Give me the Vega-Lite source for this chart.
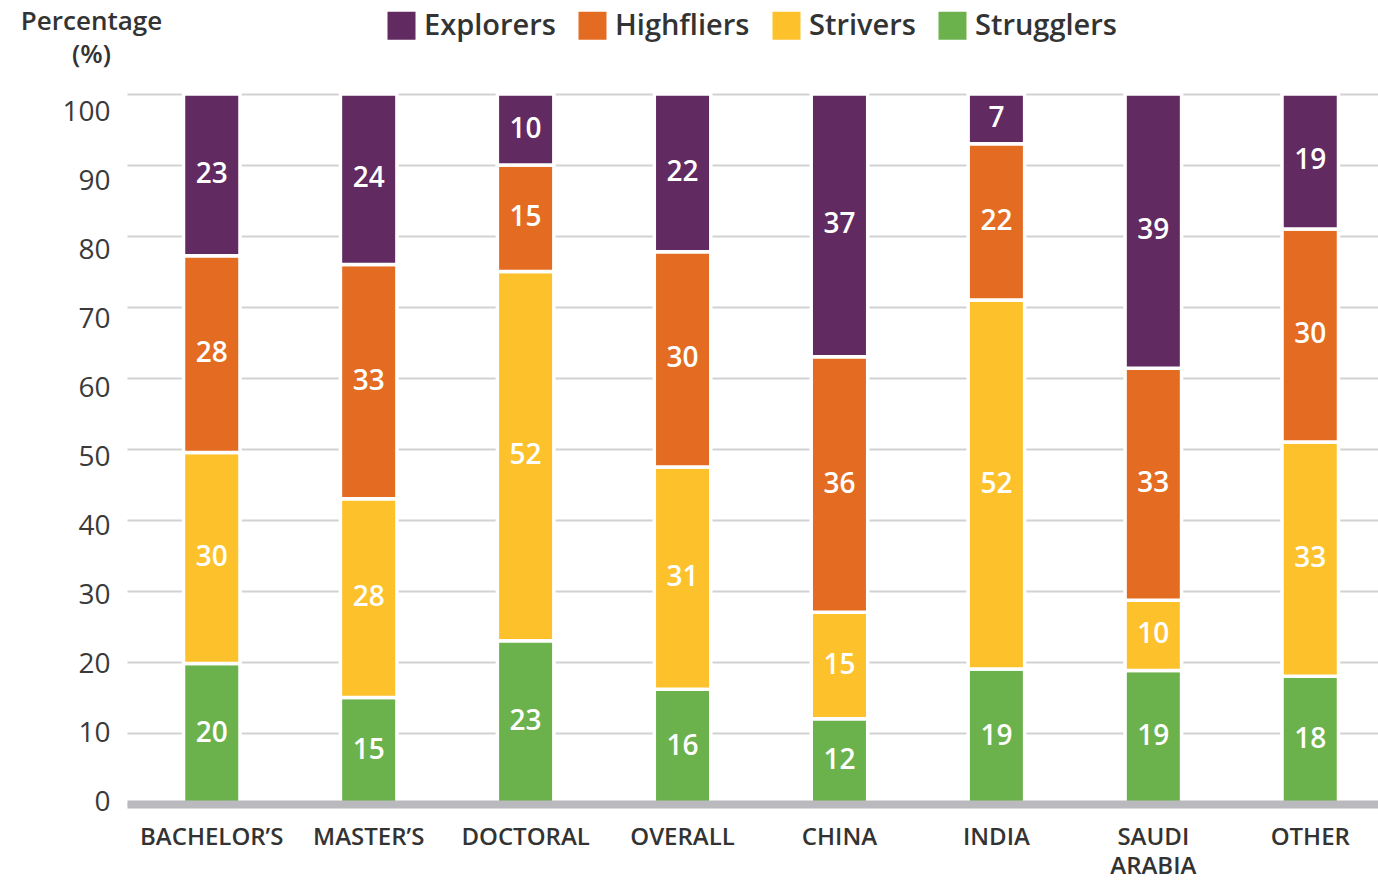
{
  "$schema": "https://vega.github.io/schema/vega-lite/v6.json",
  "width": 1268,
  "height": 710,
  "autosize": {"type": "none"},
  "padding": {"left": 127, "top": 94, "right": 0, "bottom": 76},
  "background": "white",
  "config": {"view": {"stroke": null}, "font": "Open Sans"},
  "data": {
    "values": [
      {"category": "BACHELOR’S", "group": "Strugglers", "order": 1, "value": 20},
      {"category": "BACHELOR’S", "group": "Strivers", "order": 2, "value": 30},
      {"category": "BACHELOR’S", "group": "Highfliers", "order": 3, "value": 28},
      {"category": "BACHELOR’S", "group": "Explorers", "order": 4, "value": 23},
      {"category": "MASTER’S", "group": "Strugglers", "order": 1, "value": 15},
      {"category": "MASTER’S", "group": "Strivers", "order": 2, "value": 28},
      {"category": "MASTER’S", "group": "Highfliers", "order": 3, "value": 33},
      {"category": "MASTER’S", "group": "Explorers", "order": 4, "value": 24},
      {"category": "DOCTORAL", "group": "Strugglers", "order": 1, "value": 23},
      {"category": "DOCTORAL", "group": "Strivers", "order": 2, "value": 52},
      {"category": "DOCTORAL", "group": "Highfliers", "order": 3, "value": 15},
      {"category": "DOCTORAL", "group": "Explorers", "order": 4, "value": 10},
      {"category": "OVERALL", "group": "Strugglers", "order": 1, "value": 16},
      {"category": "OVERALL", "group": "Strivers", "order": 2, "value": 31},
      {"category": "OVERALL", "group": "Highfliers", "order": 3, "value": 30},
      {"category": "OVERALL", "group": "Explorers", "order": 4, "value": 22},
      {"category": "CHINA", "group": "Strugglers", "order": 1, "value": 12},
      {"category": "CHINA", "group": "Strivers", "order": 2, "value": 15},
      {"category": "CHINA", "group": "Highfliers", "order": 3, "value": 36},
      {"category": "CHINA", "group": "Explorers", "order": 4, "value": 37},
      {"category": "INDIA", "group": "Strugglers", "order": 1, "value": 19},
      {"category": "INDIA", "group": "Strivers", "order": 2, "value": 52},
      {"category": "INDIA", "group": "Highfliers", "order": 3, "value": 22},
      {"category": "INDIA", "group": "Explorers", "order": 4, "value": 7},
      {"category": "SAUDI ARABIA", "group": "Strugglers", "order": 1, "value": 19},
      {"category": "SAUDI ARABIA", "group": "Strivers", "order": 2, "value": 10},
      {"category": "SAUDI ARABIA", "group": "Highfliers", "order": 3, "value": 33},
      {"category": "SAUDI ARABIA", "group": "Explorers", "order": 4, "value": 39},
      {"category": "OTHER", "group": "Strugglers", "order": 1, "value": 18},
      {"category": "OTHER", "group": "Strivers", "order": 2, "value": 33},
      {"category": "OTHER", "group": "Highfliers", "order": 3, "value": 30},
      {"category": "OTHER", "group": "Explorers", "order": 4, "value": 19}
    ]
  },
  "transform": [
    {"stack": "value", "groupby": ["category"], "sort": [{"field": "order", "order": "ascending"}], "offset": "normalize", "as": ["v0", "v1"]}
  ],
  "encoding": {
    "x": {
      "field": "category",
      "type": "nominal",
      "sort": ["BACHELOR’S", "MASTER’S", "DOCTORAL", "OVERALL", "CHINA", "INDIA", "SAUDI ARABIA", "OTHER"],
      "scale": {"paddingInner": 0.64, "paddingOuter": 0.36},
      "axis": {
        "title": null,
        "zindex": 1,
        "domain": true,
        "domainColor": "#b9b9be",
        "domainWidth": 8,
        "ticks": false,
        "grid": false,
        "labelAngle": 0,
        "labelPadding": 21,
        "labelFontSize": 24,
        "labelFontWeight": 600,
        "labelColor": "#333333",
        "labelLineHeight": 29,
        "labelExpr": "datum.label == 'SAUDI ARABIA' ? ['SAUDI', 'ARABIA'] : datum.label"
      }
    }
  },
  "layer": [
    {
      "mark": {"type": "bar", "stroke": "white", "strokeWidth": 3.5},
      "encoding": {
        "y": {
          "field": "v0",
          "type": "quantitative",
          "scale": {"domain": [0, 1]},
          "axis": {
            "values": [0, 0.1, 0.2, 0.3, 0.4, 0.5, 0.6, 0.7, 0.8, 0.9, 1],
            "labelExpr": "format(datum.value * 100, 'd')",
            "domain": false,
            "ticks": false,
            "grid": true,
            "gridColor": "#d2d2d2",
            "gridWidth": 2,
            "labelFontSize": 28,
            "labelColor": "#3a3a3a",
            "labelPadding": 17,
            "labelOffset": {"expr": "-2 + 20 * datum.value"},
            "title": ["Percentage", "(%)"],
            "titleAngle": 0,
            "titleAlign": "center",
            "titleBaseline": "alphabetic",
            "titleX": -36,
            "titleY": -65,
            "titleFontSize": 26,
            "titleFontWeight": 600,
            "titleColor": "#333333",
            "titleLineHeight": 33
          }
        },
        "y2": {"field": "v1"},
        "color": {
          "field": "group",
          "type": "nominal",
          "scale": {
            "domain": ["Explorers", "Highfliers", "Strivers", "Strugglers"],
            "range": ["#612a61", "#e46c22", "#fdc12b", "#6cb24c"]
          },
          "legend": {
            "title": null,
            "orient": "none",
            "direction": "horizontal",
            "legendX": 260,
            "legendY": -83,
            "padding": 0,
            "symbolType": "square",
            "symbolSize": 784,
            "symbolStrokeWidth": 0,
            "symbolOpacity": 1,
            "labelFontSize": 29,
            "labelFontWeight": 600,
            "labelColor": "#333333",
            "labelOffset": 8,
            "columnPadding": 22
          }
        }
      }
    },
    {
      "transform": [{"calculate": "(datum.v0 + datum.v1) / 2", "as": "mid"}],
      "mark": {"type": "text", "color": "white", "fontSize": 28, "fontWeight": 600, "align": "center", "baseline": "middle"},
      "encoding": {
        "y": {"field": "mid", "type": "quantitative"},
        "text": {"field": "value", "type": "quantitative"}
      }
    }
  ]
}
